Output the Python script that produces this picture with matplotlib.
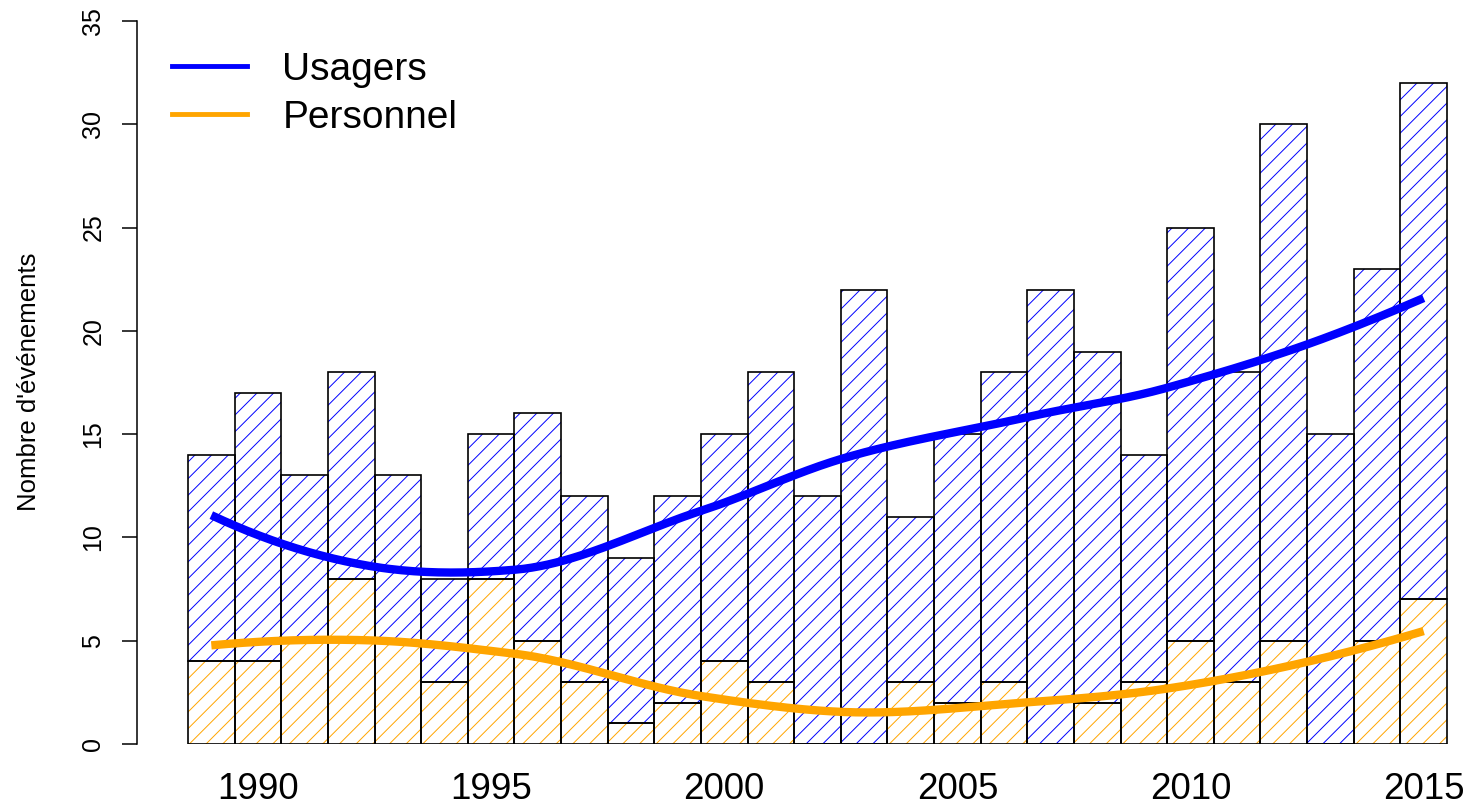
import numpy as np
import matplotlib
matplotlib.use("Agg")
import matplotlib.pyplot as plt
from matplotlib.lines import Line2D

plt.rcParams['font.family'] = ['Liberation Sans', 'DejaVu Sans']
plt.rcParams['hatch.linewidth'] = 0.7

years = np.arange(1989, 2016)
personnel = [4, 4, 5, 8, 5, 3, 8, 5, 3, 1, 2, 4, 3, 0, 0, 3, 2, 3, 0, 2, 3, 5, 3, 5, 0, 5, 7]
usagers = [10, 13, 8, 10, 8, 5, 7, 11, 9, 8, 10, 11, 15, 12, 22, 8, 13, 15, 22, 17, 11, 20, 15, 25, 15, 18, 25]
year_labels = [1990, 1995, 2000, 2005, 2010, 2015]

col_usagers = 'blue'
col_personnel = 'orange'


def local_fit(x, y, x0, span):
    # weighted quadratic fit around x0, tricube weights
    n = len(x)
    q = int(np.floor(n * span))
    d = np.abs(x - x0)
    h = np.sort(d)[q - 1] * 1.0000001
    w = np.clip(1 - (d / h) ** 3, 0, None) ** 3
    X = np.vstack([np.ones(n), x - x0, (x - x0) ** 2]).T
    sw = np.sqrt(w)
    beta = np.linalg.lstsq(X * sw[:, None], y * sw, rcond=None)[0]
    return beta[0], beta[1]


def kd_cuts(pts, fc):
    if len(pts) <= fc:
        return []
    m = (len(pts) - 1) // 2
    cut = (pts[m] + pts[m + 1]) / 2
    return kd_cuts(pts[:m + 1], fc) + [cut] + kd_cuts(pts[m + 1:], fc)


def loess(x, y, xs, span=0.75, cell=0.2):
    # R-like loess: fit at kd-tree vertices, cubic hermite in between
    x = np.asarray(x, float)
    y = np.asarray(y, float)
    fc = int(np.floor(len(x) * span * cell))
    margin = 0.005 * (x.max() - x.min())
    verts = [x.min() - margin] + kd_cuts(np.sort(x), fc) + [x.max() + margin]
    fits = [local_fit(x, y, v, span) for v in verts]
    out = []
    for t in xs:
        i = min(np.searchsorted(verts, t, side='right') - 1, len(verts) - 2)
        x0, x1 = verts[i], verts[i + 1]
        (y0, s0), (y1, s1) = fits[i], fits[i + 1]
        hh = x1 - x0
        u = (t - x0) / hh
        h00 = 2 * u**3 - 3 * u**2 + 1
        h10 = u**3 - 2 * u**2 + u
        h01 = -2 * u**3 + 3 * u**2
        h11 = u**3 - u**2
        out.append(h00 * y0 + h10 * hh * s0 + h01 * y1 + h11 * hh * s1)
    return np.array(out)


fig = plt.figure(figsize=(14.7, 8.08), dpi=100)
ax = fig.add_axes([137 / 1470, 64 / 808, 1323 / 1470, 723 / 808])

bottom = np.array(personnel)

# hatching first, then black borders on top
ax.bar(years, personnel, width=1, color='none', edgecolor=col_personnel, hatch='//', linewidth=0)
ax.bar(years, usagers, width=1, bottom=bottom, color='none', edgecolor=col_usagers, hatch='//', linewidth=0)
ax.bar(years, personnel, width=1, fill=False, edgecolor='black', linewidth=1.2)
ax.bar(years, usagers, width=1, bottom=bottom, fill=False, edgecolor='black', linewidth=1.2)

xs = np.linspace(years[0], years[-1], 300)
ax.plot(xs, loess(years, usagers, xs), color=col_usagers, lw=6, solid_capstyle='butt')
ax.plot(xs, loess(years, personnel, xs), color=col_personnel, lw=6, solid_capstyle='butt')

ax.set_xlim(1987.406, 2015.78)
ax.set_ylim(0, 35)
for s in ['top', 'right', 'bottom']:
    ax.spines[s].set_visible(False)
ax.spines['left'].set_linewidth(1.1)

ax.set_yticks(range(0, 36, 5))
ax.tick_params(axis='y', length=10.8, width=1.1, pad=12, labelsize=18)
for lab in ax.get_yticklabels():
    lab.set_rotation(90)
    lab.set_va('center')

ax.set_xticks(year_labels)
ax.set_xticklabels([str(y) for y in year_labels])
ax.tick_params(axis='x', length=0, pad=20, labelsize=26.5)

fig.text(29 / 1470, 1 - 382 / 808, "Nombre d'événements", rotation=90,
         ha='center', va='center', fontsize=18.5)

handles = [Line2D([], [], color=col_usagers, lw=3.5),
           Line2D([], [], color=col_personnel, lw=3.5)]
ax.legend(handles, ['Usagers', 'Personnel'], loc='upper left',
          bbox_to_anchor=(172 / 1470, 1 - 52 / 808), bbox_transform=fig.transFigure,
          frameon=False, fontsize=28, handlelength=1.92, handletextpad=0.92,
          labelspacing=0.3, borderpad=0, borderaxespad=0)

fig.savefig('out.png', dpi=100)
